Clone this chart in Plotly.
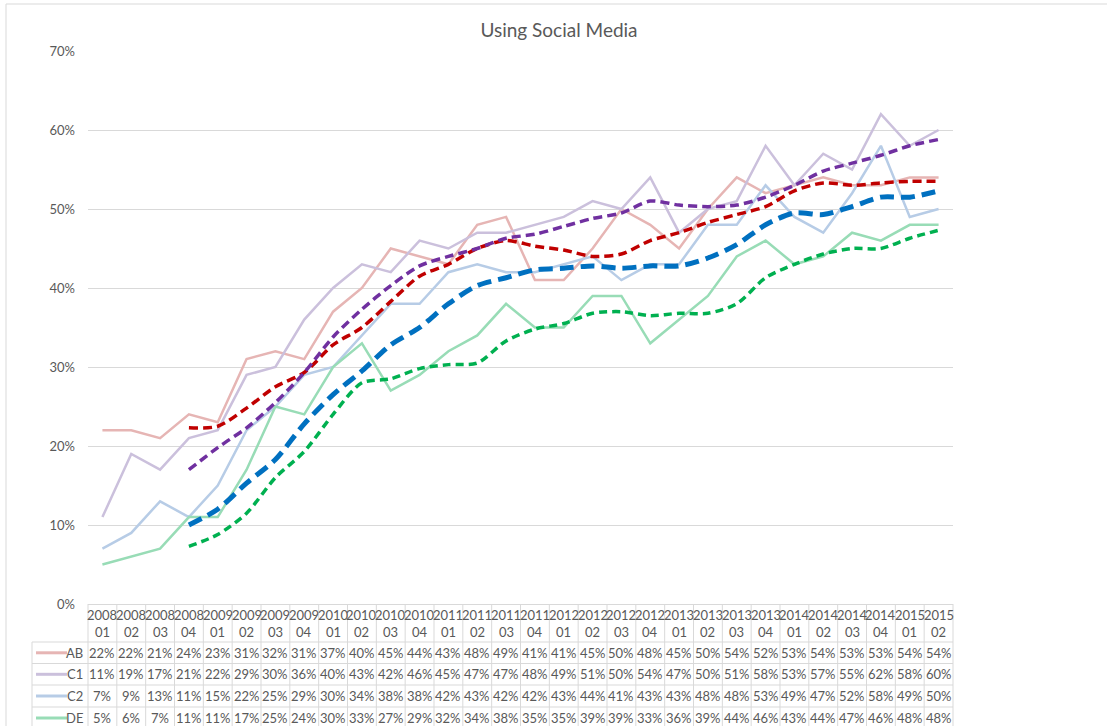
import plotly.graph_objects as go

# quarters shown on the category axis / table header
years = ["2008", "2008", "2008", "2008", "2009", "2009", "2009", "2009",
         "2010", "2010", "2010", "2010", "2011", "2011", "2011", "2011",
         "2012", "2012", "2012", "2012", "2013", "2013", "2013", "2013",
         "2014", "2014", "2014", "2014", "2015", "2015"]
quarters = ["01", "02", "03", "04", "01", "02", "03", "04",
            "01", "02", "03", "04", "01", "02", "03", "04",
            "01", "02", "03", "04", "01", "02", "03", "04",
            "01", "02", "03", "04", "01", "02"]
periods = [f"{y} {q}" for y, q in zip(years, quarters)]

series_names = ["AB", "C1", "C2", "DE"]

# % using social media, per social grade
ab = [22, 22, 21, 24, 23, 31, 32, 31, 37, 40, 45, 44, 43, 48, 49,
      41, 41, 45, 50, 48, 45, 50, 54, 52, 53, 54, 53, 53, 54, 54]
c1 = [11, 19, 17, 21, 22, 29, 30, 36, 40, 43, 42, 46, 45, 47, 47,
      48, 49, 51, 50, 54, 47, 50, 51, 58, 53, 57, 55, 62, 58, 60]
c2 = [7, 9, 13, 11, 15, 22, 25, 29, 30, 34, 38, 38, 42, 43, 42,
      42, 43, 44, 41, 43, 43, 48, 48, 53, 49, 47, 52, 58, 49, 50]
de = [5, 6, 7, 11, 11, 17, 25, 24, 30, 33, 27, 29, 32, 34, 38,
      35, 35, 39, 39, 33, 36, 39, 44, 46, 43, 44, 47, 46, 48, 48]

# dashed trend lines (4-quarter moving average as drawn on the chart)
ab_trend = [None, None, None, 22.3, 22.5, 24.8, 27.5, 29.3, 32.8, 35.0, 38.3, 41.5,
            43.0, 45.0, 46.0, 45.3, 44.8, 44.0, 44.3, 46.0, 47.0, 48.3, 49.3, 50.3,
            52.3, 53.3, 53.0, 53.3, 53.5, 53.5]
c1_trend = [None, None, None, 17.0, 19.8, 22.3, 25.5, 29.3, 33.8, 37.3, 40.3, 42.8,
            44.0, 45.0, 46.3, 46.8, 47.8, 48.8, 49.5, 51.0, 50.5, 50.3, 50.5, 51.5,
            53.0, 54.8, 55.8, 56.8, 58.0, 58.8]
c2_trend = [None, None, None, 10.0, 12.0, 15.3, 18.3, 22.8, 26.5, 29.5, 32.8, 35.0,
            38.0, 40.3, 41.3, 42.3, 42.5, 42.8, 42.5, 42.8, 42.8, 43.8, 45.5, 48.0,
            49.5, 49.3, 50.3, 51.5, 51.5, 52.3]
de_trend = [None, None, None, 7.3, 8.8, 11.5, 16.0, 19.3, 24.0, 28.0, 28.5, 29.8,
            30.3, 30.5, 33.3, 34.8, 35.5, 36.8, 37.0, 36.5, 36.8, 36.8, 38.0, 41.3,
            43.0, 44.3, 45.0, 45.0, 46.3, 47.3]

solid_colors = ["#e6b5b4", "#cbc0dc", "#b7cce6", "#98dcb6"]
trend_colors = ["#c00000", "#7030a0", "#0070c0", "#00b050"]
trend_widths = [3.5, 3.5, 5, 3.5]
trend_dash = ["9px,5px", "9px,5px", "14px,7px", "8px,5px"]

TXT = "#595959"
GRID = "#d9d9d9"
FONT = "Lato"
FS = 13

W, H = 1107, 726
L, T, B = 88, 51, 604
PW = 865
PH = B - T


def px(xp):
    return (xp - L) / PW


def py(yp):
    return (B - yp) / PH


fig = go.Figure()

values = [ab, c1, c2, de]
trends = [ab_trend, c1_trend, c2_trend, de_trend]
for name, vals, col in zip(series_names, values, solid_colors):
    fig.add_trace(go.Scatter(x=periods, y=vals, mode="lines", name=name,
                             line=dict(color=col, width=2.5), showlegend=False))
for name, vals, col, w, d in zip(series_names, trends, trend_colors, trend_widths, trend_dash):
    fig.add_trace(go.Scatter(x=periods, y=vals, mode="lines", name=f"{name} trend",
                             line=dict(color=col, width=w, dash=d, shape="spline", smoothing=0.8),
                             connectgaps=False, showlegend=False))

shapes = []
line_kw = dict(type="line", xref="paper", yref="paper", line=dict(color=GRID, width=1))
# outer chart-area border (left + top)
shapes.append(dict(line_kw, x0=px(6), x1=px(W + 5), y0=py(4), y1=py(4)))
shapes.append(dict(line_kw, x0=px(6), x1=px(6), y0=py(4), y1=py(H + 5)))

# data table grid
row_lines = [642, 663.5, 685, 707, 729]
for yl in row_lines:
    shapes.append(dict(line_kw, x0=px(32), x1=1, y0=py(yl), y1=py(yl)))
for k in range(len(periods) + 1):
    shapes.append(dict(line_kw, x0=k / len(periods), x1=k / len(periods), y0=0, y1=py(729)))
shapes.append(dict(line_kw, x0=px(32), x1=px(32), y0=py(642), y1=py(729)))

cell_font = dict(size=FS, color=TXT, family=FONT)
annotations = []
for p, y, q in zip(periods, years, quarters):
    annotations.append(dict(x=p, xref="x", y=py(615), yref="paper", yanchor="middle",
                            text=y, showarrow=False, font=cell_font))
    annotations.append(dict(x=p, xref="x", y=py(632), yref="paper", yanchor="middle",
                            text=q, showarrow=False, font=cell_font))

row_centers = [652.8, 674.3, 696, 718]
for name, vals, col, yc in zip(series_names, values, solid_colors, row_centers):
    shapes.append(dict(type="line", xref="paper", yref="paper", x0=px(36), x1=px(67),
                       y0=py(yc), y1=py(yc), line=dict(color=col, width=3)))
    annotations.append(dict(x=px(85), xref="paper", xanchor="right", y=py(yc), yref="paper",
                            yanchor="middle", text=name, showarrow=False, font=cell_font))
    for p, v in zip(periods, vals):
        annotations.append(dict(x=p, xref="x", y=py(yc), yref="paper", yanchor="middle",
                                text=f"{v}%", showarrow=False, font=cell_font))

fig.update_layout(
    width=W, height=H,
    margin=dict(l=L, r=W - L - PW, t=T, b=H - B, pad=0),
    paper_bgcolor="white", plot_bgcolor="white",
    title=dict(text="Using Social Media", x=559 / W, xref="container", xanchor="center",
               y=1 - 30 / H, yref="container", yanchor="middle",
               font=dict(size=19, color=TXT, family=FONT)),
    font=dict(family=FONT, color=TXT, size=FS),
    xaxis=dict(type="category", categoryorder="array", categoryarray=periods,
               range=[-0.5, len(periods) - 0.5], showticklabels=False, showgrid=False,
               showline=True, linecolor=GRID, linewidth=1, zeroline=False, ticks=""),
    yaxis=dict(range=[0, 70], dtick=10, ticksuffix="%", showgrid=True, gridcolor=GRID,
               gridwidth=1, zeroline=False, showline=False, ticks="",
               ticklabelstandoff=12, tickfont=dict(size=FS, color=TXT, family=FONT)),
    shapes=shapes,
    annotations=annotations,
    hovermode=False,
)

fig.write_html("out.html", config={"displayModeBar": False},
               post_script="document.body.style.margin='0';document.body.style.overflow='hidden';")
